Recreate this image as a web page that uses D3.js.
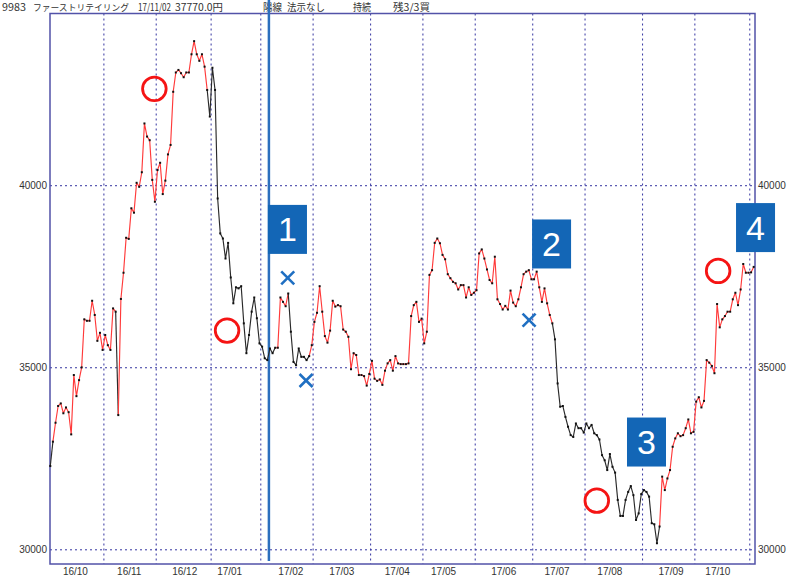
<!DOCTYPE html>
<html><head><meta charset="utf-8">
<script src="https://cdn.jsdelivr.net/npm/d3@7"></script>
<style>
html,body{margin:0;padding:0;background:#fff;}
svg{display:block;}
</style></head>
<body>
<svg id="chart" width="800" height="577"></svg>
<script>
// ---- data ----
const prices = [
32300,32970,33490,33950,34020,33750,33910,33780,33170,34800,
34220,34660,35010,36330,36290,36290,36840,36450,35740,35960,
35490,35900,35620,35490,36630,36540,33700,36890,37610,38570,
38540,39380,39260,40080,39970,40370,41710,41350,41250,40160,
39560,40430,40630,39770,40140,40860,41120,42580,43110,43180,
43090,42980,43110,43110,43610,43970,43610,43430,43610,43270,
42630,41900,43240,42630,39650,38690,38550,38000,38430,37480,
36770,37210,37180,37240,36220,35400,35900,36540,36930,36360,
35670,35580,35260,35210,35530,35400,35550,35550,36930,36810,
36690,37040,35990,35160,35070,35530,35300,35300,35210,35320,
35620,36260,36510,37240,36540,35870,35690,36020,36840,36680,
36720,36690,36050,35990,35850,34960,35400,35350,34800,34800,
34770,34510,34830,35190,34700,34640,34680,34530,34920,35120,
35210,34920,35320,35120,35100,35100,35100,35120,36420,36720,
36810,36260,36350,35670,35990,37550,37680,38430,38550,38420,
38100,37980,37570,37460,37360,37320,37150,37270,37270,36930,
37210,37000,37060,37130,38140,38250,38000,37700,37410,37320,
38050,36880,36750,36600,36700,36600,37120,36790,36690,36880,
37210,37570,37640,37680,37430,37430,37640,37210,36810,37180,
36770,36450,36220,35780,34570,33930,33950,33650,33380,33150,
33100,33470,33340,33340,33220,33470,33340,33430,33200,33150,
33030,32600,32460,32190,32630,32280,32120,31370,30930,30930,
31370,31590,31750,31500,30820,31000,31530,31640,31590,31460,
30730,30700,30180,30640,32010,31640,31960,32190,32830,33060,
33200,33120,33150,33340,33580,33200,33240,34070,34190,33910,
34090,35210,35140,35050,34850,36750,36110,36330,36420,36540,
36540,36880,37060,36720,37150,37850,37610,37610,37620,37770
];
// trend runs: segment index where a run starts, and whether it is an up-trend (red)
const trendStartIdx = [0, 1, 25, 26, 60, 86, 91, 99, 192, 233];
const trendUp = [false, true, false, true, false, true, false, true, false, true];

const monthStartIdx = [21, 41, 62, 81, 101, 123, 143, 163, 185, 205, 227, 247, 268];
const monthLabels = ["16/10","16/11","16/12","17/01","17/02","17/03","17/04","17/05","17/06","17/07","17/08","17/09","17/10"];
const monthLabelIdx = [9.6, 30.2, 51.4, 68.6, 92, 111.5, 132.7, 150.4, 173.4, 193.8, 214, 237.4, 255.3];
const yTicks = [30000, 35000, 40000];

const signalIdx = 83.6;
const boxLabels = ["1", "2", "3", "4"];
const boxIdx = [90.7, 191.7, 228, 269.7];
const boxVal = [38800, 38400, 32960, 38850];
const circleIdx = [39.8, 67.6, 209, 255.4];
const circleVal = [42660, 36020, 31350, 37660];
const crossIdx = [90.8, 97.8, 183.1];
const crossVal = [37470, 34650, 36310];

const headerTexts = ["9983", "ファーストリテイリング", "17/11/02", "37770.0円", "陽線", "法示なし", "持続", "残3/3買"];
const headerX = [2, 33, 138, 175, 263, 287, 353, 393];
const headerW = [24, 96, 33, 48, 19, 38, 18, 37];
const headerSize = [10, 8.6, 10, 10, 10, 10, 10, 10];

// ---- drawing ----
const svg = d3.select("#chart");
const L = 50, R = 755, T = 13.5, B = 564;
const x = d3.scaleLinear().domain([0, prices.length - 1]).range([50.3, 753.7]);
const y = d3.scaleLinear().domain([29610, 44730]).range([B, T]);

// header
svg.append("g").selectAll("text").data(headerTexts).join("text")
  .attr("x", (d, i) => headerX[i]).attr("y", 11)
  .attr("textLength", (d, i) => headerW[i]).attr("lengthAdjust", "spacingAndGlyphs")
  .attr("font-family", "'Noto Sans CJK JP', sans-serif").attr("font-size", (d, i) => headerSize[i]).attr("fill", "#333")
  .text(d => d);

const gridColor = "#3434a0";
// gridlines
svg.append("g").selectAll("line").data(monthStartIdx).join("line")
  .attr("x1", d => x(d - 0.5)).attr("x2", d => x(d - 0.5))
  .attr("y1", T).attr("y2", B)
  .attr("stroke", gridColor).attr("stroke-width", 1).attr("stroke-dasharray", "2,3");
svg.append("g").selectAll("line").data(yTicks).join("line")
  .attr("x1", L).attr("x2", R).attr("y1", d => y(d)).attr("y2", d => y(d))
  .attr("stroke", gridColor).attr("stroke-width", 1).attr("stroke-dasharray", "2,3");

// frame
svg.append("rect").attr("x", L).attr("y", T).attr("width", R - L).attr("height", B - T)
  .attr("fill", "none").attr("stroke", "#5252a8").attr("stroke-width", 1.5);

// axis labels
const labelFont = "'Liberation Sans', Arial, sans-serif";
svg.append("g").selectAll("text").data(yTicks).join("text")
  .attr("x", L - 3).attr("y", d => y(d) + 3.5).attr("text-anchor", "end")
  .attr("font-family", labelFont).attr("font-size", 10).attr("fill", "#333")
  .text(d => d);
svg.append("g").selectAll("text").data(yTicks).join("text")
  .attr("x", R + 3).attr("y", d => y(d) + 3.5).attr("text-anchor", "start")
  .attr("font-family", labelFont).attr("font-size", 10).attr("fill", "#333")
  .text(d => d);
svg.append("g").selectAll("text").data(monthLabels).join("text")
  .attr("x", (d, i) => x(monthLabelIdx[i])).attr("y", 575).attr("text-anchor", "middle")
  .attr("font-family", labelFont).attr("font-size", 10).attr("fill", "#333")
  .text(d => d);

// signal line
svg.append("line").attr("x1", x(signalIdx)).attr("x2", x(signalIdx))
  .attr("y1", 0).attr("y2", 561).attr("stroke", "#2c6fbe").attr("stroke-width", 2.5);

// price line runs
const line = d3.line().x(d => x(d)).y(d => y(prices[d]));
trendStartIdx.forEach((s, k) => {
  const e = k + 1 < trendStartIdx.length ? trendStartIdx[k + 1] : prices.length - 1;
  const idx = d3.range(s, e + 1);
  svg.append("path").attr("d", line(idx)).attr("fill", "none")
    .attr("stroke", trendUp[k] ? "#ff3a3a" : "#2a2a2a").attr("stroke-width", 1.15)
    .attr("stroke-linejoin", "round");
});
// dots
svg.append("g").selectAll("rect").data(prices).join("rect")
  .attr("x", (d, i) => x(i) - 1).attr("y", d => y(d) - 1)
  .attr("width", 2).attr("height", 2).attr("fill", "#111");

// circles
svg.append("g").selectAll("circle").data(circleIdx).join("circle")
  .attr("cx", d => x(d)).attr("cy", (d, i) => y(circleVal[i])).attr("r", 11.8)
  .attr("fill", "none").attr("stroke", "#f51414").attr("stroke-width", 2.8);

// crosses
const cg = svg.append("g").attr("stroke", "#1f6fc2").attr("stroke-width", 2.6);
crossIdx.forEach((d, i) => {
  const cx = x(d), cy = y(crossVal[i]), h = 6.5;
  cg.append("line").attr("x1", cx - h).attr("y1", cy - h).attr("x2", cx + h).attr("y2", cy + h);
  cg.append("line").attr("x1", cx - h).attr("y1", cy + h).attr("x2", cx + h).attr("y2", cy - h);
});

// numbered boxes
const bw = 39, bh = 49;
boxLabels.forEach((t, i) => {
  const cx = x(boxIdx[i]), cy = y(boxVal[i]);
  svg.append("rect").attr("x", cx - bw / 2).attr("y", cy - bh / 2).attr("width", bw).attr("height", bh)
    .attr("fill", "#1366b6");
  svg.append("text").attr("x", cx).attr("y", cy + 12).attr("text-anchor", "middle")
    .attr("font-family", labelFont).attr("font-size", 34).attr("fill", "#fff").text(t);
});
</script>
</body></html>
